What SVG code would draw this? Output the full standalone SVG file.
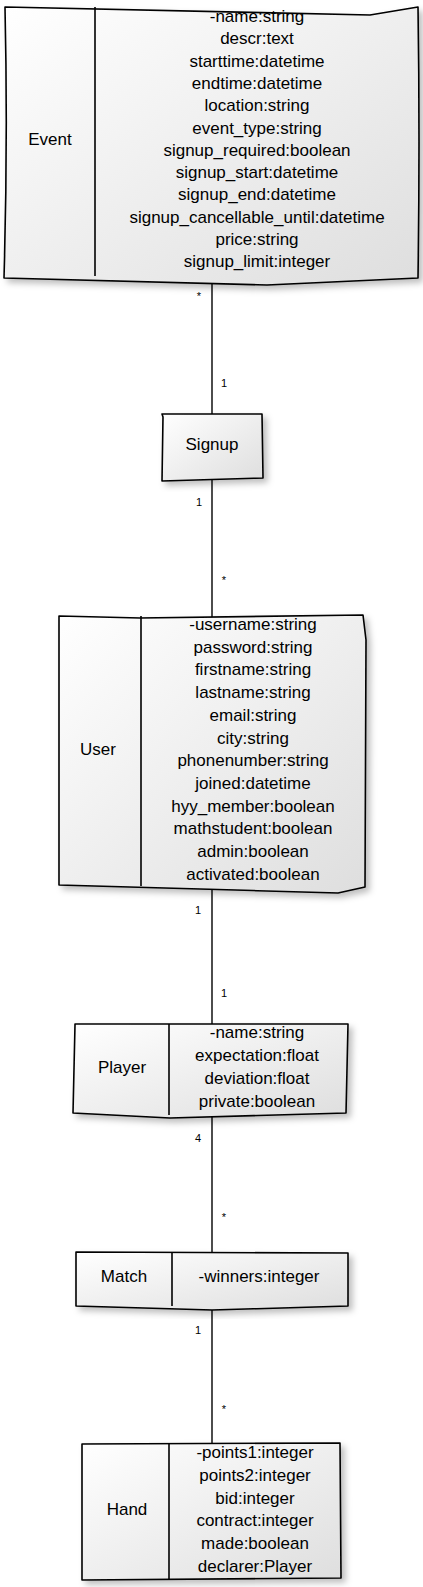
<svg xmlns="http://www.w3.org/2000/svg" width="423" height="1587" viewBox="0 0 423 1587">
<defs>
<linearGradient id="g" x1="0" y1="0" x2="1" y2="1">
<stop offset="0" stop-color="#ffffff"/>
<stop offset="1" stop-color="#dedede"/>
</linearGradient>
<filter id="sh" x="-10%" y="-10%" width="125%" height="125%">
<feDropShadow dx="4" dy="4" stdDeviation="3" flood-color="#000" flood-opacity="0.25"/>
</filter>
</defs>
<style>
.box{fill:url(#g);stroke:#000;stroke-width:1.6;stroke-linejoin:round;filter:url(#sh)}
.div{fill:none;stroke:#000;stroke-width:1.6}
.conn{fill:none;stroke:#000;stroke-width:1.4}
text{font-family:"Liberation Sans",Arial,sans-serif;font-size:17px;fill:#000;text-anchor:middle}
.m{font-size:11px}
</style>
<rect width="423" height="1587" fill="#fff"/>
<g id="connectors">
<line class="conn" x1="212" y1="276" x2="212" y2="415"/>
<line class="conn" x1="212" y1="478" x2="212" y2="617"/>
<line class="conn" x1="212" y1="886" x2="212" y2="1025"/>
<line class="conn" x1="212" y1="1112" x2="212" y2="1253"/>
<line class="conn" x1="212" y1="1306" x2="212" y2="1445"/>
<text class="m" x="199" y="300">*</text>
<text class="m" x="224" y="387">1</text>
<text class="m" x="199" y="506">1</text>
<text class="m" x="224" y="584">*</text>
<text class="m" x="198" y="914">1</text>
<text class="m" x="224" y="997">1</text>
<text class="m" x="198" y="1142">4</text>
<text class="m" x="224" y="1221">*</text>
<text class="m" x="198" y="1334">1</text>
<text class="m" x="224" y="1413">*</text>
</g>
<g id="Event">
<path class="box" d="M5,7 L370,15 L418,7 Q420,140 418,278 L267,285 L4,278 Q8,140 5,7 Z"/>
<line class="div" x1="95" y1="7" x2="95" y2="276"/>
<text x="50" y="145">Event</text>
<text x="257" y="22">-name:string<tspan x="257" dy="22.3">descr:text</tspan><tspan x="257" dy="22.3">starttime:datetime</tspan><tspan x="257" dy="22.3">endtime:datetime</tspan><tspan x="257" dy="22.3">location:string</tspan><tspan x="257" dy="22.3">event_type:string</tspan><tspan x="257" dy="22.3">signup_required:boolean</tspan><tspan x="257" dy="22.3">signup_start:datetime</tspan><tspan x="257" dy="22.3">signup_end:datetime</tspan><tspan x="257" dy="22.3">signup_cancellable_until:datetime</tspan><tspan x="257" dy="22.3">price:string</tspan><tspan x="257" dy="22.3">signup_limit:integer</tspan></text>
</g>
<g id="Signup">
<path class="box" d="M162,414 L262,414 L263,478 L162,481 L163,417 Z"/>
<text x="212" y="450">Signup</text>
</g>
<g id="User">
<path class="box" d="M59,616 L140,618 L363,615 L366,640 L365,887 L338,893 L59,885 Z"/>
<line class="div" x1="141" y1="616" x2="141" y2="886"/>
<text x="98" y="755">User</text>
<text x="253" y="630">-username:string<tspan x="253" dy="22.7">password:string</tspan><tspan x="253" dy="22.7">firstname:string</tspan><tspan x="253" dy="22.7">lastname:string</tspan><tspan x="253" dy="22.7">email:string</tspan><tspan x="253" dy="22.7">city:string</tspan><tspan x="253" dy="22.7">phonenumber:string</tspan><tspan x="253" dy="22.7">joined:datetime</tspan><tspan x="253" dy="22.7">hyy_member:boolean</tspan><tspan x="253" dy="22.7">mathstudent:boolean</tspan><tspan x="253" dy="22.7">admin:boolean</tspan><tspan x="253" dy="22.7">activated:boolean</tspan></text>
</g>
<g id="Player">
<path class="box" d="M75,1024 L348,1024 L346,1113 L170,1118 L73,1113 L75,1025 Z"/>
<line class="div" x1="169" y1="1024" x2="169" y2="1115"/>
<text x="122" y="1073">Player</text>
<text x="257" y="1038">-name:string<tspan x="257" dy="23">expectation:float</tspan><tspan x="257" dy="23">deviation:float</tspan><tspan x="257" dy="23">private:boolean</tspan></text>
</g>
<g id="Match">
<path class="box" d="M76,1252 L348,1253 L348,1306 L212,1310 L76,1306 Z"/>
<line class="div" x1="172" y1="1252" x2="172" y2="1306"/>
<text x="124" y="1282">Match</text>
<text x="259" y="1282">-winners:integer</text>
</g>
<g id="Hand">
<path class="box" d="M82,1444 L340,1443 L341,1578 L82,1580 Z"/>
<line class="div" x1="169" y1="1444" x2="169" y2="1580"/>
<text x="127" y="1515">Hand</text>
<text x="255" y="1458">-points1:integer<tspan x="255" dy="22.8">points2:integer</tspan><tspan x="255" dy="22.8">bid:integer</tspan><tspan x="255" dy="22.8">contract:integer</tspan><tspan x="255" dy="22.8">made:boolean</tspan><tspan x="255" dy="22.8">declarer:Player</tspan></text>
</g>
</svg>
